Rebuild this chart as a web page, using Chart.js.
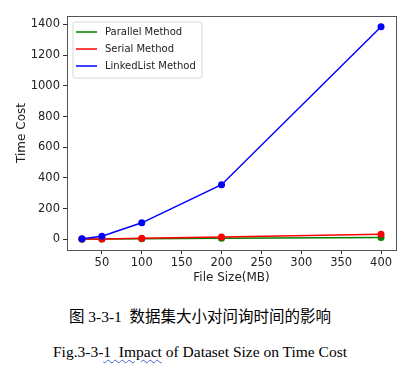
<!DOCTYPE html>
<html>
<head>
<meta charset="utf-8">
<script src="https://cdn.jsdelivr.net/npm/chart.js@4/dist/chart.umd.min.js"></script>
<style>
  html, body { margin: 0; padding: 0; background: #fff; }
  #wrap { position: relative; width: 418px; height: 290px; }
  .cap { position: absolute; left: 0; width: 400px; text-align: center; color: #000; white-space: pre; }
  #cap1 { top: 304px; font: 15.5px "Liberation Serif", "Noto Sans CJK SC", serif; }
  #cap2 { top: 343px; font: 15.5px "Liberation Serif", serif; }
  .sq { text-decoration: underline wavy #4060d0; text-decoration-thickness: 1px; text-underline-offset: 2px; }
</style>
</head>
<body>
<div id="wrap"><canvas id="c" width="418" height="290"></canvas></div>
<div class="cap" id="cap1">图 3-3-1  数据集大小对问询时间的影响</div>
<div class="cap" id="cap2">Fig.3-3-<span class="sq">1  Impact</span> of Dataset Size on Time Cost</div>
<script>
const fileSizes = [25, 50, 100, 200, 400];
const parallelCost = [1, 2, 4, 8, 12];
const serialCost = [2, 3, 7, 15, 34];
const linkedListCost = [5, 20, 108, 356, 1385];
const xTicks = [50, 100, 150, 200, 250, 300, 350, 400];
const yTicks = [0, 200, 400, 600, 800, 1000, 1200, 1400];
const seriesNames = ['Parallel Method', 'Serial Method', 'LinkedList Method'];
const seriesColors = ['#008000', '#ff0000', '#0000ff'];

const tickFont = { family: 'DejaVu Sans', size: 11.5 };

const frame = {
  id: 'frame',
  afterDraw(chart) {
    const { ctx, chartArea: a } = chart;
    ctx.save();
    ctx.strokeStyle = '#555';
    ctx.lineWidth = 1;
    ctx.strokeRect(Math.round(a.left) + 0.5, Math.round(a.top) + 0.5, Math.round(a.right - a.left), Math.round(a.bottom - a.top));
    const x0 = a.left + 6, y0 = a.top + 6;
    const w = 129, h = 56;
    ctx.beginPath();
    ctx.roundRect(x0, y0, w, h, 2);
    ctx.fillStyle = 'rgba(255,255,255,0.8)';
    ctx.fill();
    ctx.strokeStyle = '#d8d8d8';
    ctx.stroke();
    ctx.font = '10px "DejaVu Sans"';
    ctx.textBaseline = 'middle';
    chart.data.datasets.forEach((ds, i) => {
      const yy = y0 + 10 + i * 17;
      ctx.strokeStyle = ds.borderColor;
      ctx.lineWidth = 1.5;
      ctx.beginPath();
      ctx.moveTo(x0 + 3, yy);
      ctx.lineTo(x0 + 24, yy);
      ctx.stroke();
      ctx.fillStyle = '#222';
      ctx.fillText(ds.label, x0 + 32, yy);
    });
    ctx.restore();
  }
};

function mk(i, vals, order) {
  return {
    label: seriesNames[i],
    data: fileSizes.map((x, k) => ({ x: x, y: vals[k] })),
    borderColor: seriesColors[i],
    backgroundColor: seriesColors[i],
    borderWidth: 1.5,
    pointRadius: 3.5,
    pointHoverRadius: 3.5,
    pointBorderWidth: 0,
    tension: 0,
    order: order
  };
}

new Chart(document.getElementById('c'), {
  type: 'line',
  data: {
    datasets: [mk(0, parallelCost, 3), mk(1, serialCost, 2), mk(2, linkedListCost, 1)]
  },
  options: {
    responsive: false,
    animation: false,
    events: [],
    layout: { padding: { left: 0, top: 16, right: 22, bottom: 0 } },
    plugins: { legend: { display: false }, tooltip: { enabled: false } },
    scales: {
      x: {
        type: 'linear',
        min: 6.25, max: 418.75,
        afterBuildTicks(s) { s.ticks = xTicks.map(v => ({ value: v })); },
        afterFit(s) { s.height = 40; },
        grid: { display: true, drawOnChartArea: false, drawTicks: true, tickLength: 4, color: '#333' },
        border: { display: false },
        ticks: { font: tickFont, color: '#222', padding: 2, maxRotation: 0, callback: v => String(v) },
        title: { display: true, text: 'File Size(MB)', font: { family: 'DejaVu Sans', size: 12 }, color: '#222', padding: { top: 0, bottom: 5 } }
      },
      y: {
        type: 'linear',
        min: -69, max: 1455,
        afterBuildTicks(s) { s.ticks = yTicks.map(v => ({ value: v })); },
        afterFit(s) { s.width = 67; },
        grid: { display: true, drawOnChartArea: false, drawTicks: true, tickLength: 4, color: '#333' },
        border: { display: false },
        ticks: { font: tickFont, color: '#222', padding: 3, callback: v => String(v) },
        title: { display: true, text: 'Time Cost', font: { family: 'DejaVu Sans', size: 12 }, color: '#222', padding: { top: 15, bottom: 0 } }
      }
    }
  },
  plugins: [frame]
});
</script>
</body>
</html>
